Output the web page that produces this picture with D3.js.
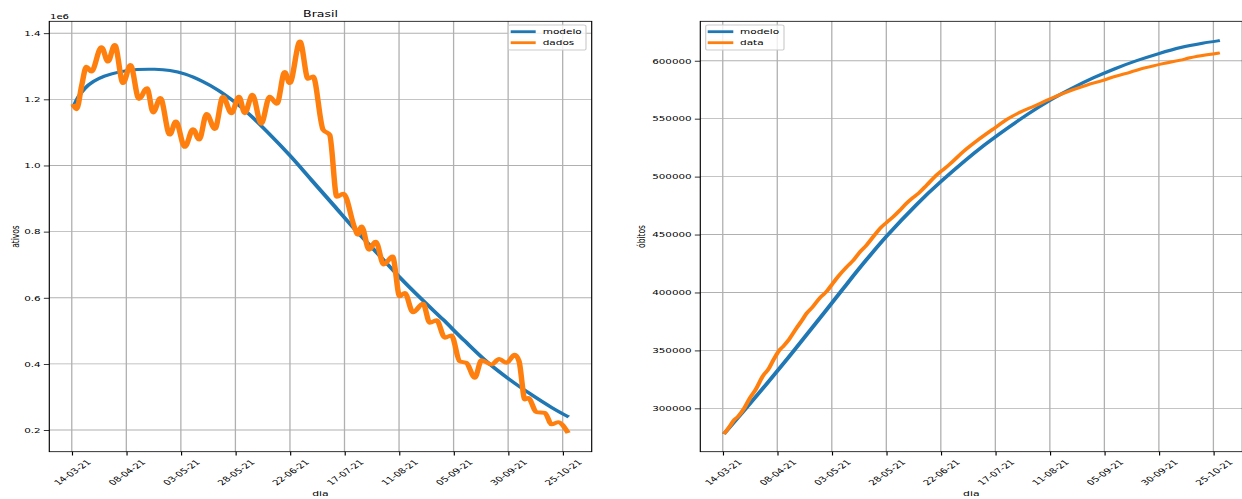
<!DOCTYPE html>
<html>
<head>
<meta charset="utf-8">
<script src="https://cdn.jsdelivr.net/npm/d3@7"></script>
<style>
  html, body { margin: 0; padding: 0; background: #fff; }
  svg { display: block; font-family: "DejaVu Sans", sans-serif; }
</style>
</head>
<body>
<script>
// ---- data -------------------------------------------------------------
// day offsets are counted from 14-03-2021
const dataInicial = new Date(Date.UTC(2021, 2, 14));
const diasTicks = [0, 25, 50, 75, 100, 125, 150, 175, 200, 225];
const ticksAtivos = [200000, 400000, 600000, 800000, 1000000, 1200000, 1400000];
const ticksObitos = [300000, 350000, 400000, 450000, 500000, 550000, 600000];

// active cases, model fit  [day, value]
const ativosModelo = [
  [1,1180000],[3,1207000],[6,1233000],[10,1254000],[15,1270000],[22,1283000],
  [30,1290000],[38,1291000],[45,1287000],[52,1276000],[60,1254000],[67,1228000],
  [73,1200000],[80,1163000],[90,1099000],[100,1030000],[110,955000],[120,880000],
  [130,805000],[140,735000],[150,664000],[160,598000],[170,535000],[180,470000],
  [190,408000],[200,356000],[210,310000],[220,268000],[227,242000]
];

// active cases, reported  [day, value]
const ativosDados = [
  [1,1180000],[2.2,1170000],[4.5,1240000],[6.7,1299000],[9,1284000],[13.6,1358000],
  [16.6,1314000],[19.7,1365000],[23.5,1249000],[26.9,1304000],[30.8,1201000],
  [34.5,1234000],[37.3,1160000],[40.6,1204000],[44.9,1093000],[47.7,1133000],
  [51.8,1056000],[55.6,1110000],[58.4,1078000],[61.8,1156000],[65.6,1110000],
  [69.3,1208000],[73.2,1158000],[76.6,1208000],[79.3,1158000],[82.8,1214000],
  [86.8,1126000],[90.7,1208000],[94,1186000],[97.6,1283000],[99.9,1249000],
  [104.6,1375000],[108.3,1262000],[110.6,1269000],[115.2,1108000],[118.2,1093000],
  [121.5,905000],[124.5,915000],[129.7,811000],[131.2,790000],[132.8,816000],
  [136.3,745000],[139.3,770000],[143,700000],[147,725000],[150.3,604000],
  [152.6,615000],[156.4,556000],[161,582000],[164.1,524000],[167.2,532000],
  [171,479000],[174,486000],[177.8,408000],[180.9,403000],[184.7,358000],
  [187.8,411000],[192.4,398000],[195.9,415000],[199.3,403000],[203,428000],
  [205,408000],[207.7,292000],[209.2,297000],[213,254000],[216.8,252000],
  [219.9,217000],[222.9,224000],[227,196000]
];

// cumulative deaths, model fit  [day, value]
const obitosModelo = [
  [1,279000],[10,298500],[20,320800],[30,343700],[40,367100],[55,402800],
  [65,426200],[75,448300],[89,476100],[100,495600],[120,527200],[140,554000],
  [150,565800],[160,576000],[170,585200],[180,593200],[190,600150],[200,606200],
  [210,611400],[220,615100],[227,617100]
];

// cumulative deaths, reported  [day, value]
const obitosDados = [
  [1,279000],[3,284000],[5,289500],[7,293000],[9.8,300000],[12.5,309000],[15,316000],
  [18.6,328500],[21,334000],[23,341000],[25.9,350000],[28,354000],[30,358500],
  [33.9,369500],[36,375000],[38.5,382000],[41,387000],[44.6,395500],[47.7,401000],
  [50.7,408500],[53,414000],[56.8,422000],[60,428000],[62.9,435000],[66,441000],
  [69.8,450000],[72,455000],[75.2,460500],[78,465000],[81.3,471000],[84,476500],
  [87.3,482000],[90,486000],[93.5,492500],[97.3,500000],[100.4,505000],[104,510500],
  [110.3,521500],[117,531500],[124,541000],[130.9,550000],[136.3,555500],[143,561000],
  [150,567000],[160.7,575000],[167,579000],[174.4,583000],[180,586500],[186.7,590000],
  [194,594000],[201.9,597500],[209.9,600500],[214.2,602500],[220,604500],[227,606500]
];

// ---- figure -----------------------------------------------------------
const W = 1242, H = 499;
const SX = 1.44;             // horizontal stretch of the whole figure
const AZUL = "#1f77b4", LARANJA = "#ff7f0e";
const fmtDia = d3.utcFormat("%d-%m-%y");
const paraData = d => new Date(dataInicial.getTime() + d * 864e5);

const svg = d3.select("body").append("svg").attr("width", W).attr("height", H);
const root = svg.append("g").attr("transform", `scale(${SX},1)`);

function painel(cfg) {
  const g = root.append("g");
  const X0 = cfg.x0 / SX, X1 = cfg.x1 / SX, Y0 = 21.3, Y1 = 451.7;

  const dMin = 1, dMax = 227, pad = 0.05 * (dMax - dMin);
  const x = d3.scaleUtc().domain([paraData(dMin - pad), paraData(dMax + pad)]).range([X0, X1]);
  const y = d3.scaleLinear().domain(cfg.yDom).range([Y1, Y0]);
  const tickDates = diasTicks.map(paraData);

  // grid
  g.append("g").selectAll("line").data(tickDates).join("line")
    .attr("x1", d => x(d)).attr("x2", d => x(d)).attr("y1", Y0).attr("y2", Y1)
    .attr("stroke", "#b0b0b0").attr("stroke-width", 0.9);
  g.append("g").selectAll("line").data(cfg.yTicks).join("line")
    .attr("x1", X0).attr("x2", X1).attr("y1", d => y(d)).attr("y2", d => y(d))
    .attr("stroke", "#b0b0b0").attr("stroke-width", 0.9);

  // series
  cfg.series.forEach(s => {
    const linha = d3.line().x(d => x(paraData(d[0]))).y(d => y(d[1])).curve(s.curva);
    g.append("path").datum(s.data).attr("d", linha)
      .attr("fill", "none").attr("stroke", s.cor).attr("stroke-width", s.lw)
      .attr("stroke-linejoin", "round").attr("stroke-linecap", "square");
  });

  // frame
  g.append("rect").attr("x", X0).attr("y", Y0).attr("width", X1 - X0).attr("height", Y1 - Y0)
    .attr("fill", "none").attr("stroke", "#000").attr("stroke-width", 0.8);

  // x axis
  const gx = g.append("g").attr("transform", `translate(0,${Y1})`)
    .call(d3.axisBottom(x).tickValues(tickDates).tickFormat(fmtDia).tickSize(3.8).tickSizeOuter(0));
  gx.select(".domain").remove();
  gx.selectAll(".tick line").attr("stroke", "#000").attr("stroke-width", 0.8);
  gx.selectAll(".tick text")
    .attr("y", 0).attr("dy", "0.35em").attr("text-anchor", "middle")
    .attr("transform", "translate(0,20.8) rotate(-45)")
    .attr("font-size", 7.2).attr("fill", "#000").attr("font-family", "DejaVu Sans");

  // y axis
  const gy = g.append("g").attr("transform", `translate(${X0},0)`)
    .call(d3.axisLeft(y).tickValues(cfg.yTicks).tickFormat(cfg.yFmt).tickSize(3.8).tickPadding(2.2).tickSizeOuter(0));
  gy.select(".domain").remove();
  gy.selectAll(".tick line").attr("stroke", "#000").attr("stroke-width", 0.8);
  gy.selectAll(".tick text").attr("font-size", 7.2).attr("fill", "#000").attr("font-family", "DejaVu Sans");

  // labels
  g.append("text").attr("x", (cfg.x0 + cfg.x1) / 2 / SX).attr("y", 496.5)
    .attr("text-anchor", "middle").attr("font-size", 7.5).text("dia");
  g.append("text").attr("transform", `translate(${cfg.ylabX / SX},236.5) rotate(-90)`)
    .attr("text-anchor", "middle").attr("dy", "0.35em").attr("font-size", 7.5).text(cfg.ylabel);
  if (cfg.titulo) {
    g.append("text").attr("x", (cfg.x0 + cfg.x1) / 2 / SX).attr("y", 17.3)
      .attr("text-anchor", "middle").attr("font-size", 8.7).text(cfg.titulo);
  }
  if (cfg.offset) {
    g.append("text").attr("x", 50 / SX).attr("y", 19)
      .attr("font-size", 7).text(cfg.offset);
  }

  // legend
  const L = cfg.legenda;
  const gl = g.append("g");
  gl.append("rect").attr("x", L.bx / SX).attr("y", 25).attr("width", L.bw / SX).attr("height", 25)
    .attr("rx", 1.6).attr("fill", "#fff").attr("fill-opacity", 0.8)
    .attr("stroke", "#cccccc").attr("stroke-width", 0.8);
  cfg.series.forEach((s, i) => {
    const yy = 31.7 + i * 11;
    gl.append("line").attr("x1", L.h1 / SX).attr("x2", L.h2 / SX).attr("y1", yy).attr("y2", yy)
      .attr("stroke", s.cor).attr("stroke-width", 2.8);
    gl.append("text").attr("x", L.tx / SX).attr("y", yy).attr("dy", "0.35em")
      .attr("font-size", 7.3).text(s.nome);
  });
}

painel({
  x0: 49.3, x1: 591.7,
  yDom: [134400, 1436000], yTicks: ticksAtivos, yFmt: v => (v / 1e6).toFixed(1),
  ylabel: "ativos", ylabX: 15.5, titulo: "Brasil", offset: "1e6",
  series: [
    { nome: "modelo", data: ativosModelo, cor: AZUL, lw: 3, curva: d3.curveCatmullRom },
    { nome: "dados", data: ativosDados, cor: LARANJA, lw: 3.8, curva: d3.curveMonotoneX }
  ],
  legenda: { bx: 508.3, bw: 77.7, h1: 510.7, h2: 535.7, tx: 542.7 }
});

painel({
  x0: 700.3, x1: 1242.4,
  yDom: [262600, 634000], yTicks: ticksObitos, yFmt: d3.format("d"),
  ylabel: "óbitos", ylabX: 641.3,
  series: [
    { nome: "modelo", data: obitosModelo, cor: AZUL, lw: 3, curva: d3.curveCatmullRom },
    { nome: "data", data: obitosDados, cor: LARANJA, lw: 3, curva: d3.curveMonotoneX }
  ],
  legenda: { bx: 705.7, bw: 78.3, h1: 707.7, h2: 733.3, tx: 740 }
});
</script>
</body>
</html>
